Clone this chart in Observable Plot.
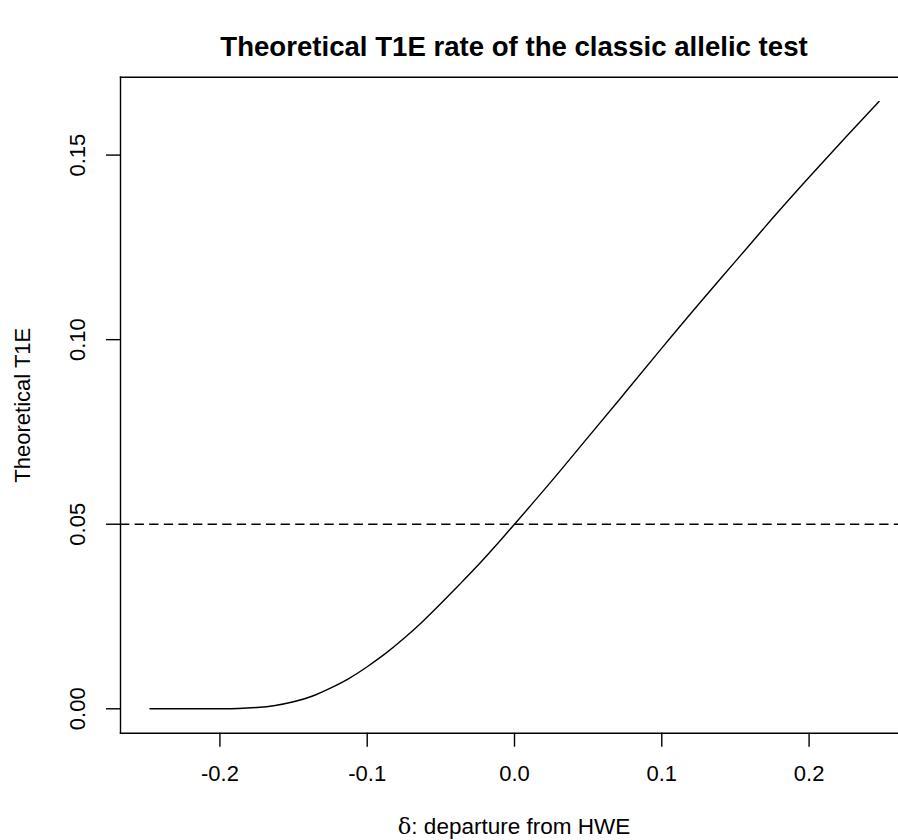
<!DOCTYPE html>
<html><head><meta charset="utf-8">
<script src="https://cdn.jsdelivr.net/npm/d3@7"></script>
<script src="https://cdn.jsdelivr.net/npm/@observablehq/plot@0.6"></script>
<style>
html,body{margin:0;padding:0;background:#fff;overflow:hidden;}
#wrap{position:relative;width:898px;height:840px;overflow:hidden;font-family:"Liberation Sans",Arial,Helvetica,sans-serif;color:#000;}
#title{position:absolute;left:120px;width:788px;top:33px;text-align:center;font-weight:bold;font-size:27.6px;line-height:27px;white-space:nowrap;}
#chart{position:absolute;left:0;top:60px;width:910px;}
#chart svg{max-width:none !important;}
#xlab{position:absolute;left:120px;width:788px;top:815px;text-align:center;font-size:22.5px;line-height:22px;white-space:nowrap;}
#xlab .d{font-family:"DejaVu Serif","Liberation Serif",serif;}
</style>
</head><body>
<div id="wrap">
  <div id="title"></div>
  <div id="chart"></div>
  <div id="xlab"></div>
</div>
<script>
const titleText = "Theoretical T1E rate of the classic allelic test";
const xTitleSymbol = "δ";
const xTitleRest = ": departure from HWE";
const yTitle = "Theoretical T1E";

const deltaValues = [-0.2475, -0.225, -0.2, -0.1875, -0.175, -0.1625, -0.15, -0.1375, -0.125, -0.1125, -0.1, -0.0875, -0.075, -0.0625, -0.05, -0.0375, -0.025, -0.0125, 0, 0.025, 0.05, 0.075, 0.1, 0.125, 0.15, 0.175, 0.2, 0.225, 0.2475];
const t1eValues   = [0.0000, 0.0000, 0.00001, 0.00007, 0.00035, 0.0009, 0.0019, 0.0034, 0.0056, 0.0082, 0.0114, 0.0150, 0.0191, 0.0236, 0.0285, 0.0336, 0.0388, 0.0443, 0.0500, 0.0616, 0.0736, 0.0856, 0.0977, 0.1096, 0.1212, 0.1328, 0.1440, 0.1549, 0.1645];
const refLevel = [0.05];

const xTicks = [-0.2, -0.1, 0.0, 0.1, 0.2];
const xTickLabels = ["-0.2", "-0.1", "0.0", "0.1", "0.2"];
const yTicks = [0.00, 0.05, 0.10, 0.15];
const yTickLabels = ["0.00", "0.05", "0.10", "0.15"];

document.getElementById("title").textContent = titleText;
const xl = document.getElementById("xlab");
const sp = document.createElement("span"); sp.className = "d"; sp.textContent = xTitleSymbol;
xl.appendChild(sp); xl.appendChild(document.createTextNode(xTitleRest));

const data = deltaValues.map((d, i) => ({delta: d, t1e: t1eValues[i]}));

const lw = 1.4;
const chart = Plot.plot({
  width: 910,
  height: 750,
  marginTop: 16.7,
  marginBottom: 77.3,
  marginLeft: 120,
  marginRight: 2,
  style: {fontFamily: '"Liberation Sans", Arial, Helvetica, sans-serif', fontSize: "22px", background: "#fff", color: "#000", overflow: "visible", maxWidth: "none"},
  x: {domain: [-0.2675, 0.2675]},
  y: {domain: [-0.00661, 0.1711]},
  marks: [
    Plot.frame({anchor: "top", stroke: "#000", strokeWidth: lw}),
    Plot.frame({anchor: "bottom", stroke: "#000", strokeWidth: lw}),
    Plot.frame({anchor: "left", stroke: "#000", strokeWidth: lw}),
    Plot.axisX(xTicks, {tickSize: 14, tickPadding: 18.2, strokeWidth: lw, fontSize: 22, label: null,
      tickFormat: d => xTickLabels[xTicks.indexOf(d)]}),
    Plot.axisY(yTicks, {tickSize: 14, tickPadding: 21.6, tickRotate: -90, strokeWidth: lw, fontSize: 22, label: null,
      tickFormat: d => yTickLabels[yTicks.indexOf(d)]}),
    Plot.ruleY(refLevel, {stroke: "#000", strokeWidth: lw, strokeDasharray: "9.3,5.3"}),
    Plot.line(data, {x: "delta", y: "t1e", stroke: "#000", strokeWidth: lw, curve: "natural"}),
    Plot.text([yTitle], {frameAnchor: "left", rotate: -90, dx: -90.6, lineAnchor: "bottom", textAnchor: "middle", fontSize: 22, fill: "#000"})
  ]
});
document.getElementById("chart").appendChild(chart);
</script>
</body></html>
